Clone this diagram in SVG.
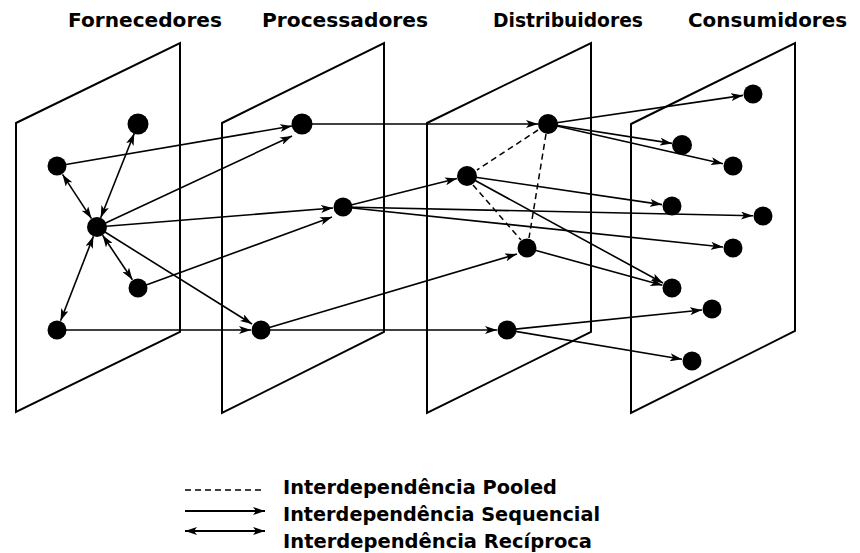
<svg xmlns="http://www.w3.org/2000/svg" width="860" height="553" viewBox="0 0 860 553">
<style>
.plane{fill:none;stroke:#000;stroke-width:2;stroke-linejoin:miter}
.node{fill:#000}
.seq{stroke:#000;stroke-width:1.6;fill:none;marker-end:url(#ah)}
.rec{stroke:#000;stroke-width:1.6;fill:none;marker-end:url(#ah);marker-start:url(#ah)}
.pool{stroke:#000;stroke-width:1.5;fill:none;stroke-dasharray:6,4}
.title{font-family:"DejaVu Sans","Liberation Sans",sans-serif;font-weight:bold;font-size:19px;fill:#000}
.leg{font-family:"DejaVu Sans","Liberation Sans",sans-serif;font-weight:bold;font-size:19px;fill:#000}
.legline{stroke-width:2}
</style>
<defs>
<marker id="ah" viewBox="0 0 12 8" refX="12" refY="4" markerWidth="12" markerHeight="8" markerUnits="userSpaceOnUse" orient="auto-start-reverse">
<path d="M0,0 L12,4 L0,8 L3,4 z" fill="#000"/>
</marker>
</defs>
<rect width="860" height="553" fill="#fff"/>

<g id="titles">
<text class="title" x="68" y="27" textLength="154" lengthAdjust="spacingAndGlyphs">Fornecedores</text>
<text class="title" x="262" y="27" textLength="166" lengthAdjust="spacingAndGlyphs">Processadores</text>
<text class="title" x="493" y="27" textLength="150" lengthAdjust="spacingAndGlyphs">Distribuidores</text>
<text class="title" x="688" y="27" textLength="159" lengthAdjust="spacingAndGlyphs">Consumidores</text>
</g>

<g id="planes">
<polygon id="plane-fornecedores" class="plane" points="16,123 180,43 180,332 16,412"/>
<polygon id="plane-processadores" class="plane" points="222,123 384,43 384,332 222,413"/>
<polygon id="plane-distribuidores" class="plane" points="427,123 591,43 591,332 427,413"/>
<polygon id="plane-consumidores" class="plane" points="631,124 795,43 795,331 631,413"/>
</g>

<g id="connectors">
<line class="rec" x1="100.7" y1="217.7" x2="134.3" y2="133.3"/>
<line class="rec" x1="91.5" y1="218.6" x2="62.5" y2="174.4"/>
<line class="rec" x1="102.6" y1="235.3" x2="132.4" y2="279.7"/>
<line class="rec" x1="93.4" y1="236.3" x2="60.6" y2="320.7"/>
<line class="seq" x1="57" y1="166" x2="292" y2="126"/>
<line class="seq" x1="97" y1="227" x2="292" y2="136"/>
<line class="seq" x1="97" y1="227" x2="333" y2="208"/>
<line class="seq" x1="138" y1="288" x2="332" y2="217"/>
<line class="seq" x1="97" y1="227" x2="252" y2="324"/>
<line class="seq" x1="57" y1="330" x2="251" y2="330"/>
<line class="seq" x1="302" y1="124" x2="538" y2="124"/>
<line class="seq" x1="343" y1="207" x2="457" y2="178.5"/>
<line class="seq" x1="343" y1="207" x2="753" y2="215.8"/>
<line class="seq" x1="343" y1="207" x2="723" y2="247"/>
<line class="seq" x1="261" y1="330" x2="517" y2="254"/>
<line class="seq" x1="261" y1="330" x2="497" y2="330"/>
<line class="seq" x1="548" y1="124" x2="743" y2="95.4"/>
<line class="seq" x1="548" y1="124" x2="672" y2="143.4"/>
<line class="seq" x1="548" y1="124" x2="723" y2="163.8"/>
<line class="seq" x1="467" y1="176" x2="662" y2="204.6"/>
<line class="seq" x1="467" y1="176" x2="663" y2="283"/>
<line class="seq" x1="527" y1="248" x2="662.4" y2="285.3"/>
<line class="seq" x1="507" y1="330" x2="702" y2="310"/>
<line class="seq" x1="507" y1="330" x2="682" y2="359.3"/>
<line class="pool" x1="538" y1="130" x2="477" y2="170"/>
<line class="pool" x1="546" y1="134" x2="529" y2="238"/>
<line class="pool" x1="473" y1="185" x2="521" y2="240"/>
</g>

<g id="n-A1"><circle class="node" cx="138" cy="124" r="10.5"/></g>
<g id="n-A2"><circle class="node" cx="57" cy="166" r="9.5"/></g>
<g id="n-A3"><circle class="node" cx="97" cy="227" r="10"/></g>
<g id="n-A4"><circle class="node" cx="138" cy="288" r="9.5"/></g>
<g id="n-A5"><circle class="node" cx="57" cy="330" r="9.5"/></g>
<g id="n-B1"><circle class="node" cx="302" cy="124" r="10.5"/></g>
<g id="n-B2"><circle class="node" cx="343" cy="207" r="9.5"/></g>
<g id="n-B3"><circle class="node" cx="261" cy="330" r="9.5"/></g>
<g id="n-C1"><circle class="node" cx="548" cy="124" r="10"/></g>
<g id="n-C2"><circle class="node" cx="467" cy="176" r="10"/></g>
<g id="n-C3"><circle class="node" cx="527" cy="248" r="9.5"/></g>
<g id="n-C4"><circle class="node" cx="507" cy="330" r="9.5"/></g>
<g id="n-D1"><circle class="node" cx="753" cy="94" r="9.5"/></g>
<g id="n-D2"><circle class="node" cx="682" cy="145" r="10"/></g>
<g id="n-D3"><circle class="node" cx="733" cy="166" r="9.5"/></g>
<g id="n-D4"><circle class="node" cx="672" cy="206" r="9.5"/></g>
<g id="n-D5"><circle class="node" cx="763" cy="216" r="9.5"/></g>
<g id="n-D6"><circle class="node" cx="733" cy="248" r="9.5"/></g>
<g id="n-D7"><circle class="node" cx="672" cy="288" r="9.5"/></g>
<g id="n-D8"><circle class="node" cx="712" cy="309" r="9.5"/></g>
<g id="n-D9"><circle class="node" cx="692" cy="361" r="9.5"/></g>

<g id="legend">
<line class="pool" x1="185" y1="490" x2="265" y2="490"/>
<line class="seq legline" x1="185" y1="511" x2="265" y2="511"/>
<line class="rec legline" x1="185" y1="531" x2="265" y2="531"/>
<text class="leg" x="283" y="494" textLength="274" lengthAdjust="spacingAndGlyphs">Interdependência Pooled</text>
<text class="leg" x="283" y="521" textLength="317" lengthAdjust="spacingAndGlyphs">Interdependência Sequencial</text>
<text class="leg" x="283" y="548" textLength="309" lengthAdjust="spacingAndGlyphs">Interdependência Recíproca</text>
</g>
</svg>
